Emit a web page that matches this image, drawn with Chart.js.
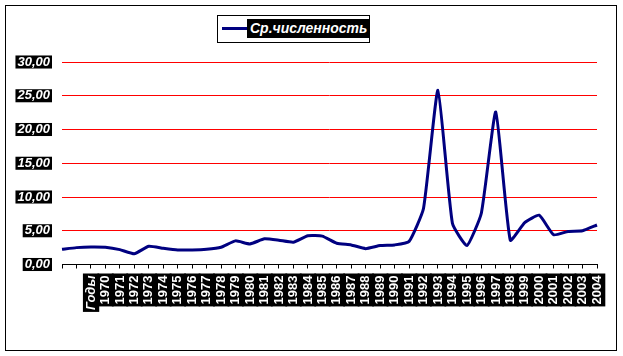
<!DOCTYPE html>
<html>
<head>
<meta charset="utf-8">
<script src="https://cdn.jsdelivr.net/npm/chart.js@4/dist/chart.umd.min.js"></script>
<style>
    html, body { margin: 0; padding: 0; background: #fff; }
    #wrap { position: relative; width: 623px; height: 356px; }
    #frame { position: absolute; left: 5px; top: 5px; width: 610px; height: 344px; border: 1px solid #000; }
    #chart { position: absolute; left: 0; top: 0; }
    #legend {
        position: absolute; left: 217px; top: 15px; width: 151px; height: 26px;
        border: 1px solid #000; background: #fff;
        font-family: 'Liberation Sans', Arial, sans-serif;
    }
    #legend .sample { position: absolute; left: 4px; top: 11px; width: 25px; height: 3px; background: #000080; }
    #legend .text {
        position: absolute; left: 29px; top: 3px; height: 19px; line-height: 19px; padding: 0 3px;
        background: #000; color: #fff; font-weight: bold; font-style: italic; font-size: 14px;
    }
</style>
</head>
<body>
<div id="wrap">
    <div id="frame"></div>
    <canvas id="chart" width="623" height="356"></canvas>
    <div id="legend"><span class="sample"></span><span class="text" id="legendText"></span></div>
</div>
<script>
const seriesName = 'Ср.численность';

const categories = ['', '', 'Годы',
    '1970', '1971', '1972', '1973', '1974', '1975', '1976', '1977', '1978', '1979',
    '1980', '1981', '1982', '1983', '1984', '1985', '1986', '1987', '1988', '1989',
    '1990', '1991', '1992', '1993', '1994', '1995', '1996', '1997', '1998', '1999',
    '2000', '2001', '2002', '2003', '2004'];

const values = [2.25, 2.5, 2.6,
    2.55, 2.2, 1.6, 2.7, 2.4, 2.15, 2.15, 2.25, 2.55, 3.5,
    3.05, 3.8, 3.6, 3.3, 4.25, 4.2, 3.15, 2.9, 2.35, 2.8,
    2.9, 3.4, 8.3, 25.8, 6.1, 2.8, 7.6, 22.6, 3.6, 6.2,
    7.3, 4.4, 4.9, 5.0, 5.85];

const yTicks = [0, 5, 10, 15, 20, 25, 30];

const fontFamily = "'Liberation Sans', Arial, sans-serif";

document.getElementById('legendText').textContent = seriesName;

const ctx = document.getElementById('chart').getContext('2d');

new Chart(ctx, {
    type: 'line',
    data: {
        labels: categories,
        datasets: [{
            label: seriesName,
            data: values,
            borderColor: '#000080',
            borderWidth: 3,
            pointRadius: 0,
            tension: 0.15,
            fill: false
        }]
    },
    options: {
        responsive: false,
        animation: false,
        layout: {
            padding: { left: 10, top: 62, right: 26, bottom: 30 }
        },
        scales: {
            x: {
                offset: false,
                afterFit: (scale) => { scale.height = 61.5; },
                border: { display: true, color: '#000', width: 1 },
                grid: {
                    drawOnChartArea: false,
                    drawTicks: true,
                    tickLength: 4,
                    color: '#000'
                },
                ticks: {
                    autoSkip: false,
                    maxRotation: 90,
                    minRotation: 90,
                    padding: 7,
                    labelOffset: -7,
                    color: '#fff',
                    font: (c) => ({
                        family: fontFamily,
                        size: 13,
                        weight: 'bold',
                        style: c.index === 2 ? 'italic' : 'normal',
                        lineHeight: 1.1
                    }),
                    showLabelBackdrop: (c) => c.index >= 2,
                    backdropColor: '#000',
                    backdropPadding: { top: 1, bottom: 1, left: 2, right: 2 }
                }
            },
            y: {
                min: 0,
                max: 30,
                afterFit: (scale) => { scale.width = 52; },
                afterBuildTicks: (scale) => { scale.ticks = yTicks.map(v => ({ value: v })); },
                border: { display: false },
                grid: {
                    drawTicks: false,
                    color: (c) => c.tick && c.tick.value === 0 ? 'rgba(0,0,0,0)' : '#ff0000',
                    lineWidth: 1
                },
                ticks: {
                    padding: 12,
                    color: '#fff',
                    font: { family: fontFamily, size: 13, weight: 'bold', style: 'italic', lineHeight: 0.85 },
                    showLabelBackdrop: true,
                    backdropColor: '#000',
                    backdropPadding: { top: 1, bottom: 1, left: 2, right: 2 },
                    callback: (v) => v.toFixed(2).replace('.', ',')
                }
            }
        },
        plugins: {
            legend: { display: false },
            tooltip: { enabled: false }
        }
    }
});
</script>
</body>
</html>
